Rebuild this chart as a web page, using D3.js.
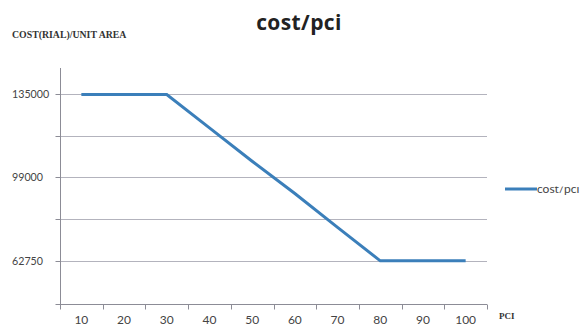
<!DOCTYPE html>
<html>
<head>
<meta charset="utf-8">
<script src="https://cdn.jsdelivr.net/npm/d3@7"></script>
<style>
  html, body { margin: 0; padding: 0; background: #fff; }
  svg { display: block; }
</style>
</head>
<body>
<svg id="chart" width="586" height="326"></svg>
<script>
// PCI categories and the cost per unit area at each one
const pci = [10, 20, 30, 40, 50, 60, 70, 80, 90, 100];
const cost = [135000, 135000, 135000, 120500, 106000, 92000, 77300, 62750, 62750, 62750];

// horizontal gridlines and which of them carry a label
const gridValues = [62750, 80875, 99000, 117000, 135000];
const labelledValues = [62750, 99000, 135000];

const seriesName = "cost/pci";
const titleText = "cost/pci";
const yTitle = "COST(RIAL)/UNIT AREA";
const xTitle = "PCI";

const svg = d3.select("#chart");
const plotLeft = 60, plotRight = 487, plotTop = 68, plotBottom = 304;

const x = d3.scaleBand().domain(pci).range([plotLeft, plotRight]);
const y = d3.scaleLinear().domain([44000, 146500]).range([plotBottom, plotTop]);

const lineColor = "#3b7fba";
const gridColor = "#b3b3bd";
const axisColor = "#8c8c96";

// title
svg.append("text")
  .attr("x", 299).attr("y", 30)
  .attr("text-anchor", "middle")
  .attr("font-family", "Open Sans, Lato, sans-serif")
  .attr("font-weight", "bold")
  .attr("font-size", 21)
  .attr("letter-spacing", 0.4)
  .attr("fill", "#222")
  .text(titleText);

// y axis title
svg.append("text")
  .attr("x", 12).attr("y", 38)
  .attr("font-family", "Liberation Serif, serif")
  .attr("font-size", 9.8)
  .attr("font-weight", "bold")
  .attr("fill", "#333")
  .text(yTitle);

// gridlines
svg.append("g").selectAll("line")
  .data(gridValues)
  .join("line")
  .attr("x1", plotLeft).attr("x2", plotRight)
  .attr("y1", d => Math.round(y(d)) + 0.5)
  .attr("y2", d => Math.round(y(d)) + 0.5)
  .attr("stroke", gridColor)
  .attr("stroke-width", 1);

// y axis with ticks on every gridline, labels on a few
const yAxis = d3.axisLeft(y)
  .tickValues(gridValues.concat([44000]))
  .tickSize(5)
  .tickFormat(() => "");
const gy = svg.append("g")
  .attr("transform", `translate(${plotLeft + 0.5},0)`)
  .call(yAxis);
gy.select(".domain").remove();
gy.selectAll(".tick line").attr("stroke", axisColor);
gy.selectAll(".tick").attr("transform", d => `translate(0,${Math.round(y(d)) + 0.5})`);
svg.append("line")
  .attr("x1", plotLeft + 0.5).attr("x2", plotLeft + 0.5)
  .attr("y1", plotTop).attr("y2", plotBottom + 0.5)
  .attr("stroke", axisColor);

svg.append("g").selectAll("text")
  .data(labelledValues)
  .join("text")
  .attr("x", 12)
  .attr("y", d => y(d) + 3.8)
  .attr("font-family", "Lato, sans-serif")
  .attr("font-size", 10.7)
  .attr("fill", "#444")
  .text(d => d);

// x axis with ticks between categories
const gx = svg.append("g").attr("transform", `translate(0,${plotBottom + 0.5})`);
gx.append("line")
  .attr("x1", plotLeft).attr("x2", plotRight)
  .attr("stroke", axisColor);
const bounds = pci.map(d => x(d)).concat([x(pci[pci.length - 1]) + x.bandwidth()]);
gx.selectAll("line.tk")
  .data(bounds)
  .join("line")
  .attr("class", "tk")
  .attr("x1", d => Math.round(d) + 0.5).attr("x2", d => Math.round(d) + 0.5)
  .attr("y1", 0).attr("y2", 5)
  .attr("stroke", axisColor);
gx.selectAll("text")
  .data(pci)
  .join("text")
  .attr("x", d => x(d) + x.bandwidth() / 2)
  .attr("y", 19.5)
  .attr("text-anchor", "middle")
  .attr("font-family", "Lato, sans-serif")
  .attr("font-size", 12)
  .attr("fill", "#444")
  .text(d => d);

// x axis title
svg.append("text")
  .attr("x", 499).attr("y", 319)
  .attr("font-family", "Liberation Serif, serif")
  .attr("font-size", 9)
  .attr("font-weight", "bold")
  .attr("fill", "#333")
  .text(xTitle);

// series line
const line = d3.line()
  .x((d, i) => x(pci[i]) + x.bandwidth() / 2)
  .y(d => y(d));
svg.append("path")
  .datum(cost)
  .attr("d", line)
  .attr("fill", "none")
  .attr("stroke", lineColor)
  .attr("stroke-width", 3);

// legend (its label is clipped along the top edge of the legend box)
svg.append("defs").append("clipPath")
  .attr("id", "legendClip")
  .append("rect")
  .attr("x", 500).attr("y", 186.5)
  .attr("width", 86).attr("height", 20);
svg.append("line")
  .attr("x1", 505).attr("x2", 537)
  .attr("y1", 189).attr("y2", 189)
  .attr("stroke", lineColor)
  .attr("stroke-width", 3);
svg.append("text")
  .attr("x", 537).attr("y", 193)
  .attr("clip-path", "url(#legendClip)")
  .attr("font-family", "Lato, sans-serif")
  .attr("font-size", 12)
  .attr("fill", "#444")
  .text(seriesName);
</script>
</body>
</html>
